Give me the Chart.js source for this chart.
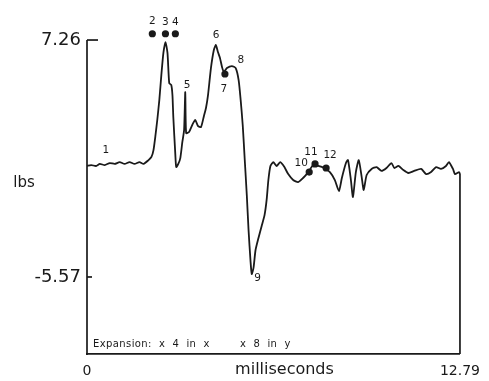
<!DOCTYPE html>
<html>
<head>
<meta charset="utf-8">
<style>
  html, body { margin: 0; padding: 0; background: #fff; }
  #chart { display: block; }
</style>
</head>
<body>
<canvas id="chart" width="489" height="381"></canvas>
<script src="https://cdn.jsdelivr.net/npm/chart.js@4/dist/chart.umd.min.js"></script>
<script>
// force trace (time in ms, force in lbs)
var ms = [0.00, 0.14, 0.31, 0.44, 0.61, 0.78, 0.95, 1.12, 1.29, 1.46, 1.63, 1.80, 1.94, 2.11, 2.21,
  2.28, 2.35, 2.41, 2.48, 2.55, 2.62, 2.69, 2.76, 2.82, 2.89, 2.93, 2.96, 3.03, 3.06, 3.13,
  3.20, 3.27, 3.33, 3.37, 3.40, 3.50, 3.61, 3.71, 3.81, 3.91, 4.01, 4.08, 4.15, 4.25, 4.35,
  4.42, 4.49, 4.56, 4.63, 4.69, 4.80, 4.97, 5.10, 5.20, 5.27, 5.34, 5.41, 5.48, 5.54, 5.61,
  5.65, 5.71, 5.78, 5.88, 5.99, 6.09, 6.16, 6.22, 6.29, 6.39, 6.50, 6.63, 6.77, 6.90, 7.07,
  7.24, 7.41, 7.59, 7.76, 7.93, 8.13, 8.33, 8.50, 8.64, 8.74, 8.88, 8.95, 9.05, 9.12, 9.22,
  9.32, 9.42, 9.49, 9.59, 9.76, 9.93, 10.10, 10.27, 10.44, 10.54, 10.68, 10.85, 11.02, 11.22, 11.46,
  11.63, 11.80, 11.97, 12.14, 12.31, 12.41, 12.55, 12.62, 12.76, 12.79];
var lbs = [0.44, 0.49, 0.44, 0.55, 0.49, 0.60, 0.55, 0.65, 0.55, 0.65, 0.55, 0.65, 0.55, 0.76, 0.93,
  1.30, 2.12, 2.93, 4.01, 5.37, 6.56, 7.15, 6.56, 4.93, 4.82, 4.28, 3.09, 1.03, 0.38, 0.55,
  0.87, 1.74, 2.39, 4.44, 2.22, 2.28, 2.66, 2.93, 2.60, 2.55, 3.15, 3.58, 4.28, 5.74, 6.72,
  6.99, 6.61, 6.29, 5.80, 5.53, 5.74, 5.85, 5.74, 5.09, 4.01, 2.66, 0.76, -1.13, -3.03, -4.76,
  -5.41, -5.08, -4.11, -3.46, -2.81, -2.21, -1.40, -0.32, 0.44, 0.65, 0.44, 0.65, 0.38, 0.00, -0.32,
  -0.43, -0.21, 0.11, 0.49, 0.44, 0.33, 0.11, -0.32, -0.92, -0.21, 0.60, 0.76, -0.32, -1.24, 0.11,
  0.76, -0.16, -0.86, -0.05, 0.28, 0.38, 0.17, 0.33, 0.60, 0.33, 0.44, 0.22, 0.06, 0.17, 0.28,
  0.00, 0.11, 0.38, 0.28, 0.44, 0.65, 0.28, 0.00, 0.11, 0.00];

// numbered events
var eventNames = ['1', '2', '3', '4', '5', '6', '7', '8', '9', '10', '11', '12'];
var eventMs = [0.65, 2.24, 2.69, 3.03, 3.40, 4.46, 4.73, 5.14, 5.68, 7.62, 7.82, 8.20];
var eventLbs = [0.49, 7.60, 7.60, 7.60, 4.44, 6.99, 5.42, 5.74, -5.41, 0.11, 0.55, 0.33];
var eventDot = [false, true, true, true, false, false, true, false, false, true, true, true];

var yTicks = [7.26, -5.57];
var xTicks = [0, 12.79];
var yMin = -9.74, yMax = 8.29;

// where each event number sits relative to its point
var labelOffsets = [[0, -15], [0, -12], [0, -11], [0, -11], [1, -7], [-1, -10],
  [-1, 15], [4, -8], [5, 4], [-8, -9], [-4, -12], [4, -13]];

var ink = '#1a1a1a';
var font = 'DejaVu Sans';

var trace = ms.map(function(t, i){ return {x: t, y: lbs[i]}; });
var lastX = ms[ms.length - 1];
var edge = [{x: lastX, y: lbs[lbs.length - 1]}, {x: lastX, y: yMin}];
var events = eventMs.map(function(t, i){ return {x: t, y: eventLbs[i]}; });

var annot = {
  id: 'annot',
  afterDatasetsDraw: function(chart){
    var ctx = chart.ctx, area = chart.chartArea;
    var xs = chart.scales.x, ys = chart.scales.y;
    ctx.save();
    ctx.strokeStyle = ink;
    ctx.lineWidth = 1.7;
    // left axis only runs up to the top tick, with inward tick marks
    var top = ys.getPixelForValue(yTicks[0]);
    ctx.beginPath();
    ctx.moveTo(area.left, area.bottom + 1);
    ctx.lineTo(area.left, top);
    ctx.stroke();
    var lens = [11, 5];
    yTicks.forEach(function(v, i){
      var py = ys.getPixelForValue(v);
      ctx.beginPath();
      ctx.moveTo(area.left, py);
      ctx.lineTo(area.left + lens[i], py);
      ctx.stroke();
    });
    // event numbers
    ctx.fillStyle = ink;
    ctx.font = '10.5px "' + font + '"';
    ctx.textAlign = 'center';
    ctx.textBaseline = 'middle';
    eventNames.forEach(function(n, i){
      var px = xs.getPixelForValue(eventMs[i]);
      var py = ys.getPixelForValue(eventLbs[i]);
      ctx.fillText(n, px + labelOffsets[i][0], py + labelOffsets[i][1]);
    });
    // axis names
    ctx.font = '15px "' + font + '"';
    ctx.fillText('lbs', 24, ys.getPixelForValue(0) + 9);
    ctx.font = '16px "' + font + '"';
    ctx.fillText('milliseconds', (area.left + area.right) / 2 + 11, area.bottom + 16);
    // expansion note
    ctx.font = '10px "' + font + '"';
    ctx.letterSpacing = '0.4px';
    ctx.textAlign = 'left';
    ctx.fillText('Expansion:  x  4  in  x', area.left + 6, area.bottom - 10);
    ctx.fillText('x  8  in  y', area.left + 153, area.bottom - 10);
    ctx.restore();
  }
};

new Chart(document.getElementById('chart').getContext('2d'), {
  type: 'line',
  data: {
    datasets: [{
      data: trace,
      borderColor: ink,
      borderWidth: 1.8,
      pointRadius: 0,
      tension: 0.2,
      fill: false,
      clip: false
    }, {
      data: edge,
      borderColor: ink,
      borderWidth: 1.7,
      pointRadius: 0,
      tension: 0,
      fill: false,
      clip: false
    }, {
      data: events,
      showLine: false,
      pointRadius: eventDot.map(function(d){ return d ? 3.6 : 0; }),
      pointBackgroundColor: ink,
      pointBorderWidth: 0,
      clip: false
    }]
  },
  options: {
    responsive: false,
    animation: false,
    devicePixelRatio: 1,
    layout: { padding: { top: 21, right: 26, left: 0, bottom: 0 } },
    plugins: { legend: { display: false }, tooltip: { enabled: false } },
    scales: {
      x: {
        type: 'linear',
        min: 0,
        max: xTicks[1],
        afterBuildTicks: function(s){ s.ticks = xTicks.map(function(v){ return {value: v}; }); },
        afterFit: function(s){ s.height = 27; },
        grid: { display: false, drawTicks: false },
        border: { display: true, color: ink, width: 1.7 },
        ticks: {
          color: ink,
          padding: 9,
          maxRotation: 0,
          font: { family: font, size: 14 },
          callback: function(v){ return v === 0 ? '0' : v.toFixed(2); }
        }
      },
      y: {
        min: yMin,
        max: yMax,
        afterBuildTicks: function(s){ s.ticks = yTicks.map(function(v){ return {value: v}; }); },
        afterFit: function(s){ s.width = 87; },
        grid: { display: false, drawTicks: false },
        border: { display: false },
        ticks: {
          color: ink,
          padding: 6,
          font: { family: font, size: 18 },
          callback: function(v){ return v.toFixed(2); }
        }
      }
    }
  },
  plugins: [annot]
});
</script>
</body>
</html>
